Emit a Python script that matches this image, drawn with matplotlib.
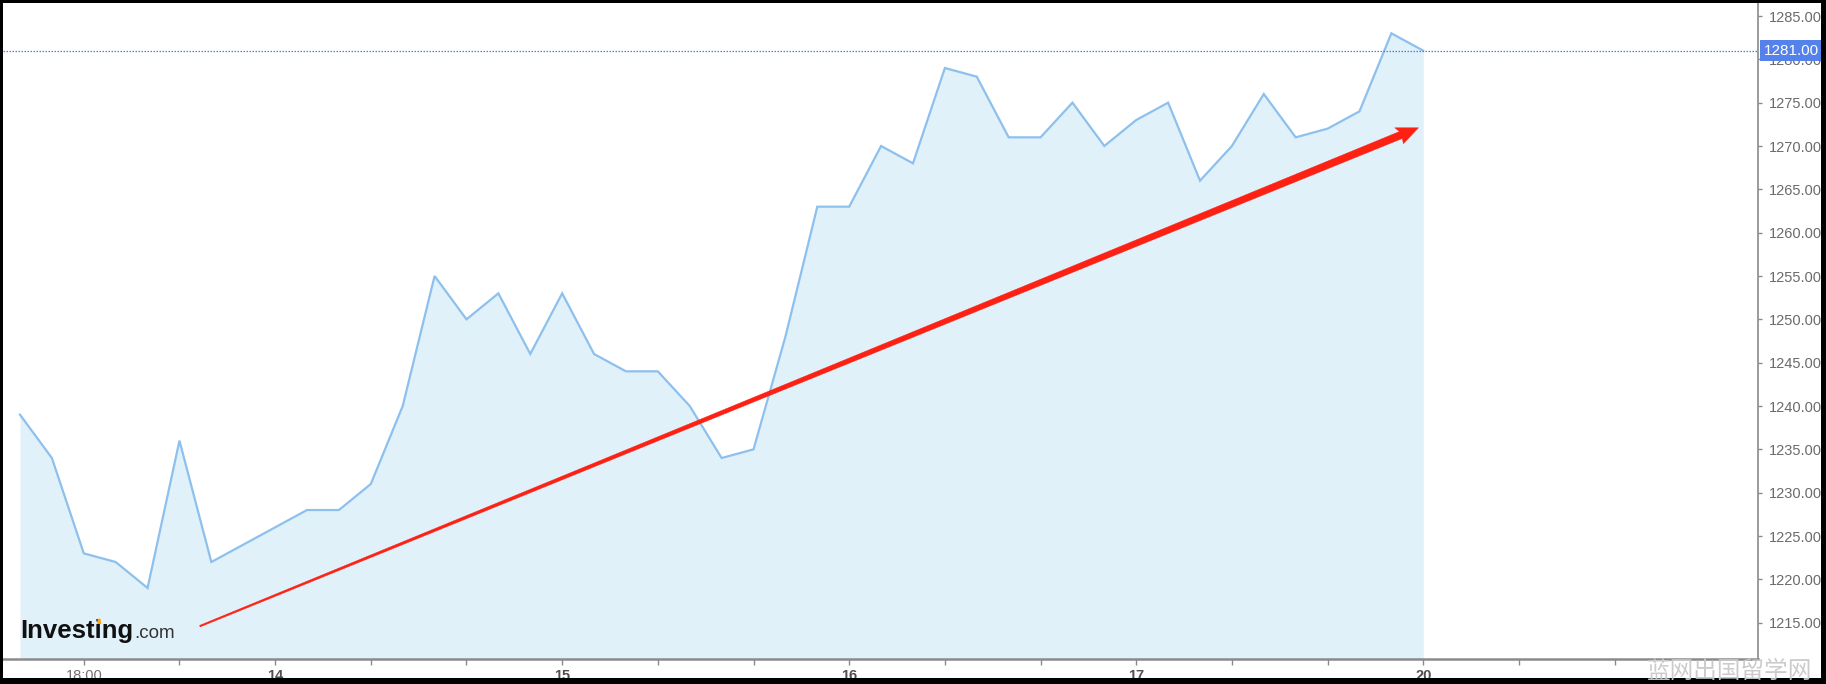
import matplotlib
matplotlib.use('Agg')
import matplotlib.pyplot as plt
from matplotlib.patches import Polygon, Rectangle
from matplotlib.transforms import IdentityTransform, blended_transform_factory
import numpy as np

plt.rcParams['font.family'] = ['Liberation Sans', 'DejaVu Sans']

# ---- data ----
prices = [1239, 1234, 1223, 1222, 1219, 1236, 1222, 1224, 1226, 1228,
          1228, 1231, 1240, 1255, 1250, 1253, 1246, 1253, 1246, 1244,
          1244, 1240, 1234, 1235, 1248, 1263, 1263, 1270, 1268, 1279,
          1278, 1271, 1271, 1275, 1270, 1273, 1275, 1266, 1270, 1276,
          1271, 1272, 1274, 1283, 1281]
label_pos = [2, 8, 17, 26, 35, 44]
label_text = ['18:00', '14', '15', '16', '17', '20']
label_bold = [False, True, True, True, True, True]
minor_pos = [5, 11, 14, 20, 23, 29, 32, 38, 41, 47, 50]
y_ticks = [1215, 1220, 1225, 1230, 1235, 1240, 1245, 1250, 1255, 1260,
           1265, 1270, 1275, 1280, 1285]
last_price = 1281.00
arrow_start = (5.64, 1214.6)
arrow_end = (43.85, 1272.1)
watermark = '蓝网出国留学网'

W, H = 1826, 684
fig = plt.figure(figsize=(W / 100, H / 100), dpi=100)
fig.patch.set_facecolor('white')
ax = fig.add_axes([3 / W, 25 / H, 1754.5 / W, 656 / H])
ax.set_facecolor('white')

x = np.arange(len(prices))
ymin, ymax = 1210.81, 1286.5
ax.set_xlim(-0.533, 54.48)
ax.set_ylim(ymin, ymax)

ax.fill_between(x, prices, ymin, color='#e1f1fa', lw=0, zorder=1)
ax.plot(x, prices, color='#8dc0ec', lw=1.6, zorder=2, solid_joinstyle='miter')

# last price dotted line
ax.axhline(last_price, color='#4f7be6', lw=0.9, ls=(0, (1.2, 1.2)), zorder=3)

# spines
for s in ['top', 'left']:
    ax.spines[s].set_visible(False)
ax.spines['right'].set_color('#8a8a8a')
ax.spines['right'].set_linewidth(1.2)
ax.spines['bottom'].set_color('#8a8a8a')
ax.spines['bottom'].set_linewidth(1.8)

# y axis right
ax.yaxis.tick_right()
ax.set_yticks(y_ticks)
ax.set_yticklabels([f'{v:.2f}' for v in y_ticks])
ax.tick_params(axis='y', which='both', direction='out', length=3, width=1,
               color='#8a8a8a', labelcolor='#6b6b6b', labelsize=10.5, pad=5)

# x ticks
all_pos = label_pos + minor_pos
all_lab = label_text + [''] * len(minor_pos)
ax.set_xticks(all_pos)
ax.set_xticklabels(all_lab)
ax.tick_params(axis='x', direction='out', length=4, width=1, color='#8a8a8a',
               labelsize=10.5, pad=3)
for t, b in zip(ax.get_xticklabels()[:len(label_pos)], label_bold):
    if b:
        t.set_fontweight('bold')
        t.set_color('#505050')
    else:
        t.set_color('#707070')

# last price label box
tr = blended_transform_factory(ax.transAxes, ax.transData)
ax.text(1.0035, last_price, f'{last_price:.2f}', transform=tr, ha='left', va='center',
        color='white', fontsize=11, zorder=10, clip_on=False,
        bbox=dict(boxstyle='square,pad=0.22', facecolor='#5482ea', edgecolor='none'))

# logo
logo_x, logo_y = 0.0097, 0.032
logo_props = dict(fontsize=18.5, fontweight='bold', color='#111111')
fig.canvas.draw()
t1 = ax.text(logo_x, logo_y, 'Investing', transform=ax.transAxes, ha='left',
             va='baseline', zorder=6, **logo_props)
tmp = ax.text(logo_x, logo_y, 'Invest', transform=ax.transAxes, ha='left',
              va='baseline', **logo_props)
tmp_i = ax.text(logo_x, logo_y, 'Investi', transform=ax.transAxes, ha='left',
                va='baseline', **logo_props)
fig.canvas.draw()
bb = t1.get_window_extent()
x_inv = tmp.get_window_extent().x1
x_invi = tmp_i.get_window_extent().x1
tmp.remove()
tmp_i.remove()
base_px = ax.transAxes.transform((logo_x, logo_y))
ax.text(bb.x1 + 1, base_px[1], '.com', transform=IdentityTransform(), ha='left',
        va='baseline', fontsize=13.5, color='#333333', zorder=6)
# orange dot of the "i"
cx = (x_inv + x_invi) / 2 + 0.5
cy = base_px[1] + 16.5
ax.add_patch(Polygon([(cx - 1.5, cy - 2.5), (cx + 2.5, cy - 2.5), (cx + 2.0, cy + 2.8),
                      (cx - 1.0, cy + 2.8)], closed=True, transform=IdentityTransform(),
                     facecolor='#f7a91b', edgecolor='none', zorder=7, clip_on=False))

# tapered red trend arrow
p0 = ax.transData.transform(arrow_start)
p1 = ax.transData.transform(arrow_end)
d = p1 - p0
L = np.hypot(*d)
u = d / L
n = np.array([-u[1], u[0]])
head_len, head_w = 19.0, 18.0
w0, w1 = 1.6, 7.5
base = p1 - u * head_len
verts = [p0 + n * w0 / 2, base + n * w1 / 2, base + n * head_w / 2 - u * 3, p1,
         base - n * head_w / 2 - u * 1, base - n * w1 / 2, p0 - n * w0 / 2]
ax.add_patch(Polygon(verts, closed=True, transform=IdentityTransform(),
                     facecolor='#fd2114', edgecolor='#fd2114', lw=0.3, zorder=7,
                     clip_on=False))

# black frame
for (rx, ry, rw, rh) in [(0, 0, 3, H), (0, H - 3, W, 3), (W - 5, 0, 5, H), (0, 0, W, 6)]:
    fig.add_artist(Rectangle((rx, ry), rw, rh, transform=IdentityTransform(),
                             facecolor='black', edgecolor='none', zorder=20))

# watermark
fig.text(1812 / W, 13 / H, watermark, ha='right', va='center', fontsize=17,
         color='#c9c9c9', alpha=0.95, zorder=25,
         family=['Noto Sans CJK SC', 'DejaVu Sans'])

fig.savefig('out.png', dpi=100, facecolor='white')
